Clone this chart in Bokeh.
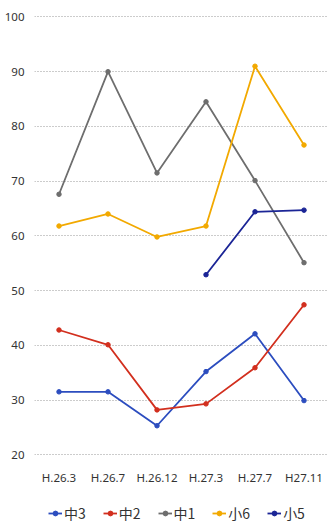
from bokeh.plotting import figure
from bokeh.layouts import column
from bokeh.models import Range1d, FixedTicker, Legend, LegendItem
from bokeh.embed import file_html
from bokeh.resources import INLINE

periods = ["H.26.3", "H.26.7", "H.26.12", "H.27.3", "H.27.7", "H27.11"]
y_ticks = [20, 30, 40, 50, 60, 70, 80, 90, 100]

naka3 = [31.5, 31.5, 25.3, 35.2, 42.1, 29.9]
naka2 = [42.8, 40.1, 28.2, 29.3, 35.9, 47.4]
naka1 = [67.6, 90.0, 71.5, 84.5, 70.1, 55.1]
sho6 = [61.8, 64.0, 59.8, 61.8, 91.0, 76.6]
sho5 = [None, None, None, 52.9, 64.4, 64.7]

series = [
    ("中3", naka3, "#2c4dbf"),
    ("中2", naka2, "#d22f1e"),
    ("中1", naka1, "#6e6e6e"),
    ("小6", sho6, "#f2a900"),
    ("小5", sho5, "#1b2596"),
]

FONT = "Noto Sans"
LINE_W = 1.8
MARK = 4.5

p = figure(
    width=334, height=490,
    x_range=Range1d(-0.5, 5.5), y_range=Range1d(19.5, 101),
    output_backend="svg", toolbar_location=None,
    min_border_left=34, min_border_right=6, min_border_top=11, min_border_bottom=33,
)
p.outline_line_color = None
p.background_fill_color = "white"
p.border_fill_color = "white"

xs = list(range(len(periods)))


def points(vals):
    px = [x for x, v in zip(xs, vals) if v is not None]
    py = [v for v in vals if v is not None]
    return px, py


for name, vals, color in series:
    px, py = points(vals)
    p.line(px, py, line_color=color, line_width=LINE_W)
    p.scatter(px, py, size=MARK, fill_color=color, line_color=color)

# axes
p.xaxis.ticker = FixedTicker(ticks=xs)
p.xaxis.major_label_overrides = {i: lab for i, lab in enumerate(periods)}
p.yaxis.ticker = FixedTicker(ticks=y_ticks)
for ax in (p.xaxis[0], p.yaxis[0]):
    ax.axis_line_color = None
    ax.major_tick_line_color = None
    ax.minor_tick_line_color = None
    ax.major_label_text_font = FONT
    ax.major_label_text_font_size = "11.5px"
    ax.major_label_text_color = "#333333"
p.xaxis.major_label_standoff = 6
p.yaxis.major_label_standoff = 4

p.xgrid.grid_line_color = None
p.ygrid.grid_line_color = "#999999"
p.ygrid.grid_line_dash = "1 2"
p.ygrid.grid_line_width = 1

# legend strip under the chart; its series sit outside the strip's visible range
leg = figure(
    width=334, height=33, x_range=Range1d(100, 101), y_range=Range1d(0, 1),
    x_axis_location=None, y_axis_location=None,
    output_backend="svg", toolbar_location=None,
    min_border=0,
)
leg.grid.visible = False
leg.outline_line_color = None
leg.border_fill_color = "white"
items = []
for name, vals, color in series:
    px, py = points(vals)
    r1 = leg.line(px, py, line_color=color, line_width=LINE_W)
    r2 = leg.scatter(px, py, size=MARK, fill_color=color, line_color=color)
    items.append(LegendItem(label=name, renderers=[r1, r2]))

legend = Legend(
    items=items, orientation="horizontal", location=(14, 0),
    label_text_font="Noto Sans CJK JP", label_text_font_size="14px",
    label_text_color="#333333",
    glyph_width=14, glyph_height=12, label_standoff=2, spacing=17,
    border_line_color=None, background_fill_alpha=0,
    margin=0, padding=0, label_height=14,
)
leg.add_layout(legend, "center")

open("out.html", "w").write(file_html(column(p, leg), INLINE))
